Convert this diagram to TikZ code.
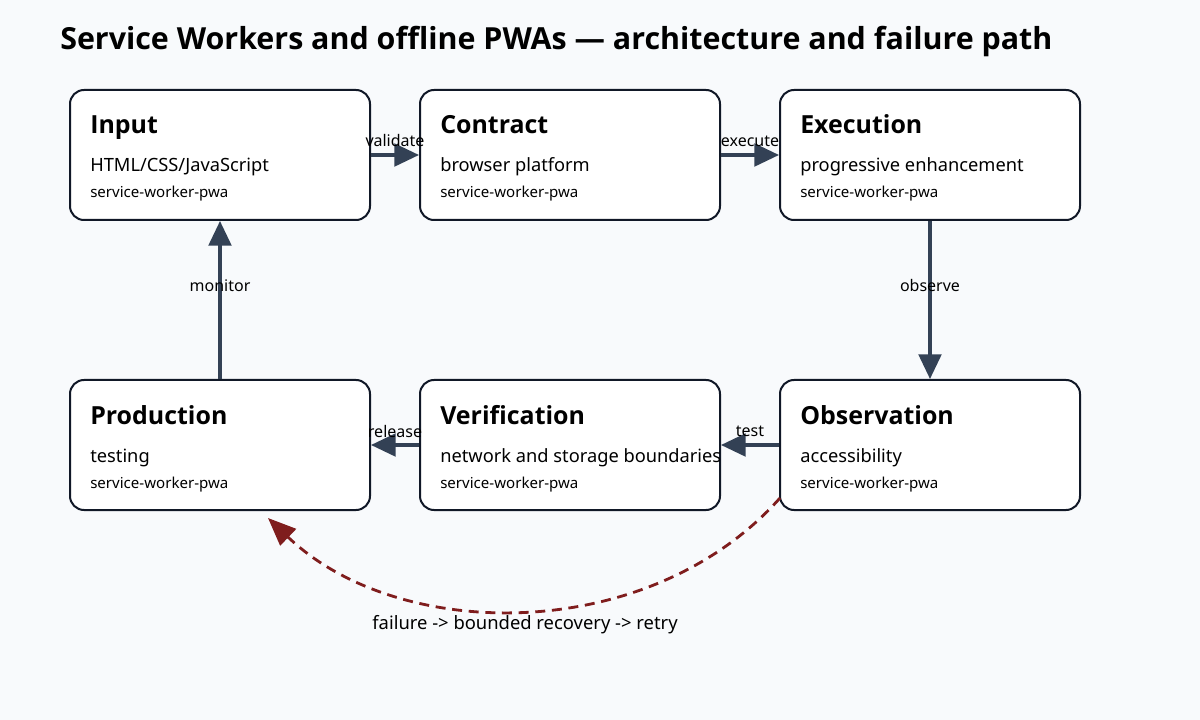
\documentclass[tikz,border=0pt]{standalone}
\usepackage{fontspec}
\setmainfont{Noto Sans}
\newfontfamily\hfont{Open Sans}
\usetikzlibrary{arrows.meta}
\definecolor{bg}{HTML}{F8FAFC}
\definecolor{boxline}{HTML}{111827}
\definecolor{arr}{HTML}{334155}
\definecolor{fail}{HTML}{7F1D1D}
\begin{document}
\begin{tikzpicture}[x=0.75pt,y=-0.75pt,
  box/.style={draw=boxline,fill=white,line width=1.5pt,rounded corners=10.5pt,minimum width=225pt,minimum height=97.5pt,inner sep=0pt},
  btitle/.style={anchor=base west,font=\hfont\bfseries\fontsize{18.7}{20}\selectfont,inner sep=0pt},
  bsub/.style={anchor=base west,font=\fontsize{13.7}{15}\selectfont,inner sep=0pt},
  bsmall/.style={anchor=base west,font=\fontsize{11.3}{12}\selectfont,inner sep=0pt},
  elabel/.style={font=\fontsize{12}{13}\selectfont,inner sep=0pt,text=black},
  flow/.style={draw=arr,line width=2.4pt,-{Triangle[length=18.5pt,width=17pt]}},
  failarrow/.style={draw=fail,line width=2.1pt,dash pattern=on 7.5pt off 5pt,-{Triangle[length=21pt,width=17pt]}}]
\fill[bg] (0,0) rectangle (1200,720);
\useasboundingbox (0,0) rectangle (1200,720);
\node[anchor=base west,font=\hfont\bfseries\fontsize{22.8}{26}\selectfont,inner sep=0pt] (title) at (60,50) {Service Workers and offline PWAs — architecture and failure path};
% boxes
\node[box] (input) at (220,155) {};
\node[box] (contract) at (570,155) {};
\node[box] (execution) at (930,155) {};
\node[box] (production) at (220,445) {};
\node[box] (verification) at (570,445) {};
\node[box] (observation) at (930,445) {};
% texts
\node[btitle] (t1) at (90,134) {Input};
\node[bsub] (s1) at (90,172) {HTML/CSS/JavaScript};
\node[bsmall] (m1) at (90,198) {service-worker-pwa};
\node[btitle] (t2) at (440,134) {Contract};
\node[bsub] (s2) at (440,172) {browser platform};
\node[bsmall] (m2) at (440,198) {service-worker-pwa};
\node[btitle] (t3) at (800,134) {Execution};
\node[bsub] (s3) at (800,172) {progressive enhancement};
\node[bsmall] (m3) at (800,198) {service-worker-pwa};
\node[btitle] (t4) at (90,424) {Production};
\node[bsub] (s4) at (90,462) {testing};
\node[bsmall] (m4) at (90,488) {service-worker-pwa};
\node[btitle] (t5) at (440,424) {Verification};
\node[bsub] (s5) at (440,462) {network and storage boundaries};
\node[bsmall] (m5) at (440,488) {service-worker-pwa};
\node[btitle] (t6) at (800,424) {Observation};
\node[bsub] (s6) at (800,462) {accessibility};
\node[bsmall] (m6) at (800,488) {service-worker-pwa};
% connectors
\draw[flow] (input.east) -- (contract.west);
\draw[flow] (contract.east) -- (execution.west);
\draw[flow] (execution.south) -- (observation.north);
\draw[flow] (observation.west) -- (verification.east);
\draw[flow] (verification.west) -- (production.east);
\draw[flow] (production.north) -- (input.south);
\node[elabel] (l1) at (395,141) {validate};
\node[elabel] (l2) at (750,141) {execute};
\node[elabel] (l3) at (930,286) {observe};
\node[elabel] (l4) at (750,431) {test};
\node[elabel] (l5) at (395,431) {release};
\node[elabel] (l6) at (220,286) {monitor};
% failure path
\coordinate (fstart) at (780,498);
\coordinate (fend) at (268,518);
\draw[failarrow] (fstart) .. controls (650,644) and (400,644) .. (fend);
\node[font=\fontsize{13.8}{15}\selectfont,inner sep=0pt] (fl) at (525,625) {failure -> bounded recovery -> retry};
\end{tikzpicture}
\end{document}
